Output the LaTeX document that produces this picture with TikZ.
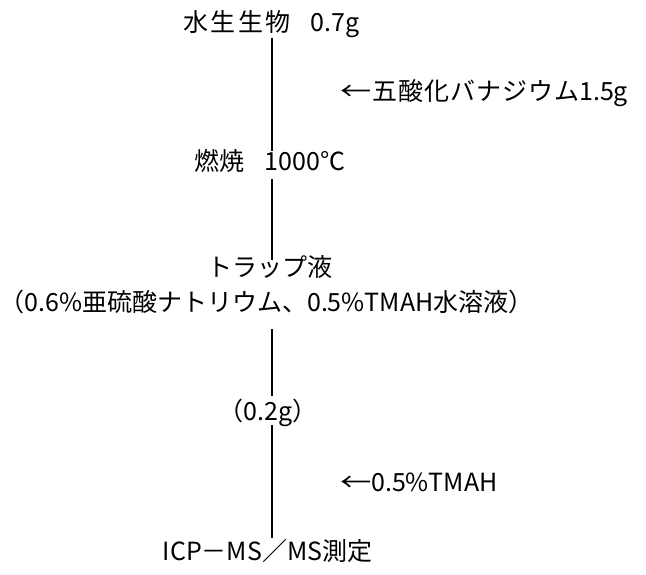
\documentclass[tikz,border=0pt]{standalone}
\usepackage{fontspec}
\setmainfont{Noto Sans CJK JP}
\newcommand{\larr}{\scalebox{1.25}[1]{←}}
\begin{document}
\begin{tikzpicture}[x=1pt,y=-1pt,
  lbl/.style={inner sep=0pt, outer sep=0pt, text height=0.88em, text depth=0.12em,
    font=\fontsize{25}{30}\selectfont},
  conn/.style={line width=1.4pt, draw=black}]
\useasboundingbox (0,0) rectangle (646,574);
\coordinate (axis) at (272,0);
\node[lbl] (a) at (271.5,28) {水\kern2.5pt 生\kern2.5pt 生\kern2.5pt 物\kern20pt 0.7g};
\node[lbl, anchor=west] (v) at (340,97) {\larr\kern1pt 五\kern1pt 酸\kern1pt 化\kern1pt バ\kern1pt ナ\kern1pt ジ\kern1pt ウ\kern1pt ム1.5g};
\node[lbl] (b) at (270,167) {燃焼\kern20pt 1000℃};
\node[lbl] (c1) at (270,273) {トラップ液};
\node[lbl] (c2) at (266.5,308) {（0.6\%亜硫酸ナトリウム、0.5\%TMAH水溶液）};
\node[lbl] (d) at (268,417) {（0.2g）};
\node[lbl, anchor=west] (t) at (340,488) {\larr 0.5\%TMAH};
\node[lbl] (e) at (267.5,557) {ICP－MS／MS測定};
\draw[conn] ([yshift=-5pt]a.south -| axis) -- ([yshift=11pt]b.north -| axis);
\draw[conn] ([yshift=-7pt]b.south -| axis) -- ([yshift=8pt]c1.north -| axis);
\draw[conn] ([yshift=-16pt]c2.south -| axis) -- ([yshift=16pt]d.north -| axis);
\draw[conn] ([yshift=-3pt]d.south -| axis) -- ([yshift=14pt]e.north -| axis);
\end{tikzpicture}
\end{document}
